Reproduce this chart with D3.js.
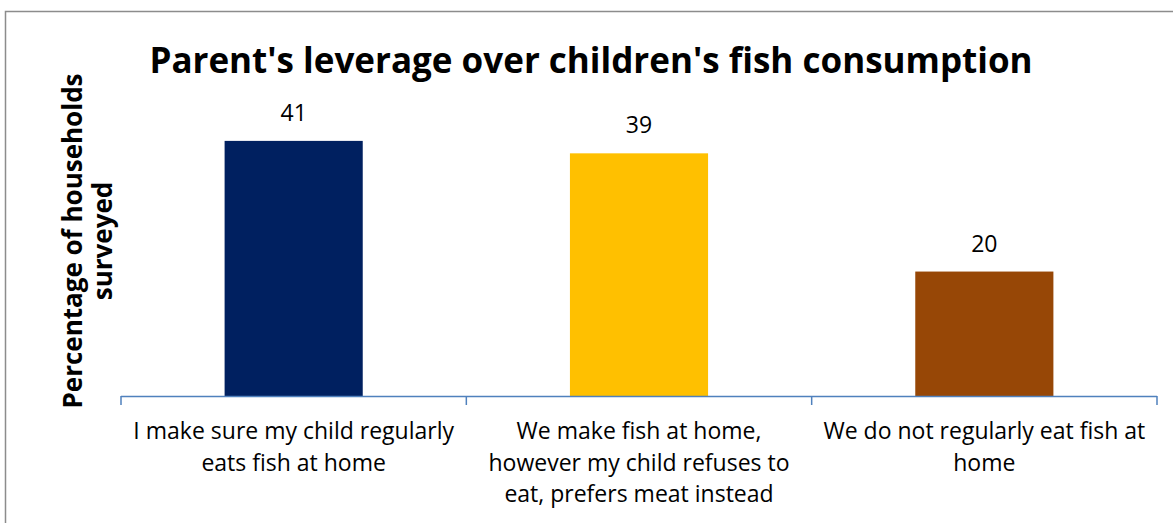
<!DOCTYPE html>
<html>
<head>
<meta charset="utf-8">
<script src="https://cdn.jsdelivr.net/npm/d3@7"></script>
<style>
  html, body { margin: 0; padding: 0; background: #fff; }
  svg { display: block; }
  text { font-family: "Open Sans", "Noto Sans", sans-serif; fill: #000; }
</style>
</head>
<body>
<svg id="chart" width="1173" height="523"></svg>
<script>
// Survey answers: share of households (%) per response
const categories = [
  "I make sure my child regularly eats fish at home",
  "We make fish at home, however my child refuses to eat, prefers meat instead",
  "We do not regularly eat fish at home"
];
const categoryLines = [
  ["I make sure my child regularly", "eats fish at home"],
  ["We make fish at home,", "however my child refuses to", "eat, prefers meat instead"],
  ["We do not regularly eat fish at", "home"]
];
const values = [41, 39, 20];
const barColors = ["#002060", "#FFC000", "#974706"];
const chartTitle = "Parent's leverage over children's fish consumption";
const yTitleLines = ["Percentage of households", "surveyed"];

const svg = d3.select("#chart");

// chart-area frame (runs off the right and bottom edges)
svg.append("path")
  .attr("d", "M5.5,1000 V11.5 H1200")
  .attr("fill", "none")
  .attr("stroke", "#8c8c8c")
  .attr("stroke-width", 1.5);

const plot = { left: 121, right: 1157, top: 116, bottom: 396 };

const x = d3.scaleBand()
  .domain(categories)
  .range([plot.left, plot.right])
  .padding(0);

const y = d3.scaleLinear()
  .domain([0, 45])
  .range([plot.bottom, plot.top]);

const barW = x.bandwidth() * 0.4;

// bars
svg.append("g").selectAll("rect")
  .data(categories)
  .join("rect")
  .attr("x", (d) => x(d) + (x.bandwidth() - barW) / 2)
  .attr("y", (d, i) => y(values[i]))
  .attr("width", barW)
  .attr("height", (d, i) => y(0) - y(values[i]))
  .attr("fill", (d, i) => barColors[i]);

// value labels
svg.append("g").selectAll("text")
  .data(categories)
  .join("text")
  .attr("x", (d) => x(d) + x.bandwidth() / 2)
  .attr("y", (d, i) => y(values[i]) - 20)
  .attr("text-anchor", "middle")
  .style("font-size", "23px")
  .text((d, i) => values[i]);

// category axis: baseline with ticks at category boundaries
const axis = svg.append("g");
const boundaries = categories.map((d) => x(d)).concat([x.range()[1]]);
axis.append("line")
  .attr("x1", plot.left).attr("x2", plot.right)
  .attr("y1", plot.bottom + 0.5).attr("y2", plot.bottom + 0.5)
  .attr("stroke", "#4F81BD").attr("stroke-width", 1.5);
axis.selectAll("line.tick")
  .data(boundaries)
  .join("line")
  .attr("class", "tick")
  .attr("x1", (d) => d).attr("x2", (d) => d)
  .attr("y1", plot.bottom).attr("y2", plot.bottom + 9)
  .attr("stroke", "#4F81BD").attr("stroke-width", 1.5);

// category labels, wrapped
const catLabels = axis.selectAll("text.cat")
  .data(categories)
  .join("text")
  .attr("class", "cat")
  .attr("text-anchor", "middle")
  .attr("transform", (d) => `translate(${x(d) + x.bandwidth() / 2},439)`)
  .style("font-size", "23px");
catLabels.selectAll("tspan")
  .data((d, i) => categoryLines[i])
  .join("tspan")
  .attr("x", 0)
  .attr("y", (d, j) => j * 31.5)
  .text((d) => d);

// chart title
svg.append("text")
  .attr("x", 591)
  .attr("y", 73)
  .attr("text-anchor", "middle")
  .style("font-size", "35px")
  .style("font-weight", "bold")
  .text(chartTitle);

// value axis title, rotated
const yTitle = svg.append("text")
  .attr("transform", "translate(0,241) rotate(-90)")
  .attr("text-anchor", "middle")
  .style("font-size", "26px")
  .style("font-weight", "bold");
yTitle.selectAll("tspan")
  .data(yTitleLines)
  .join("tspan")
  .attr("x", 0)
  .attr("y", (d, j) => 82 + j * 30)
  .text((d) => d);
</script>
</body>
</html>
